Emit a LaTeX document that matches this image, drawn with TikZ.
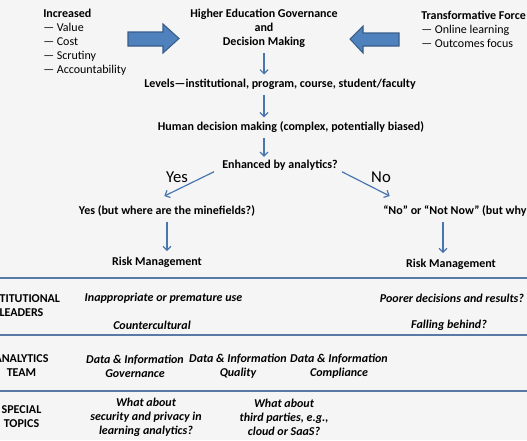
\documentclass[tikz,border=0pt]{standalone}
\usepackage{fontspec}
\setmainfont{Carlito}
\usetikzlibrary{arrows.meta}
\definecolor{bgcol}{RGB}{245,245,245}
\definecolor{arrfill}{RGB}{79,129,189}
\definecolor{arrdraw}{RGB}{56,93,138}
\definecolor{flowcol}{RGB}{74,118,175}
\definecolor{rulecol}{RGB}{88,122,165}
\tikzset{
  lbl/.style={font=\bfseries\fontsize{9}{10.5}\selectfont, inner sep=0pt, align=center},
  lst/.style={font=\fontsize{9}{10.5}\selectfont, inner sep=0pt, align=left, anchor=west},
  rowtxt/.style={font=\bfseries\itshape\fontsize{9}{10.5}\selectfont, inner sep=0pt, align=center},
  yn/.style={font=\fontsize{12.5}{14}\selectfont, inner sep=0pt},
  flow/.style={draw=flowcol, line width=0.9pt, -{Straight Barb[length=3pt,width=6pt]}},
  band/.style={draw=rulecol, line width=1.4pt},
  blockarrow/.style={fill=arrfill, draw=arrdraw, line width=0.8pt, line join=miter},
}
\begin{document}
\begin{tikzpicture}[x=0.75pt,y=-0.75pt]
  \fill[bgcol] (0,0) rectangle (527,440);
  \useasboundingbox (0,0) rectangle (527,440);
  \clip (0,0) rectangle (527,440);

  % top: forces pushing on governance
  \node[lst] (incr) at (43,42) {\textbf{Increased}\\— Value\\— Cost\\— Scrutiny\\— Accountability};
  \node[lbl] (gov) at (264,28) {Higher Education Governance\\and\\Decision Making};
  \node[lst] (trans) at (421,29) {\textbf{Transformative Force}\\— Online learning\\— Outcomes focus};
  \draw[blockarrow] (128,32) -- (163,32) -- (163,24) -- (179,38.5) -- (163,53) -- (163,46) -- (128,46) -- cycle;
  \draw[blockarrow] (399,33) -- (363,33) -- (363,26) -- (350,39) -- (363,53) -- (363,46) -- (399,46) -- cycle;

  % decision flow
  \node[lbl] (levels) at (280,84) {Levels—institutional, program, course, student/faculty};
  \node[lbl] (human) at (291,127) {Human decision making (complex, potentially biased)};
  \node[lbl] (enh) at (280,165) {Enhanced by analytics?};
  \node[yn] (yes) at (177,177) {Yes};
  \node[yn] (no) at (381,177) {No};
  \node[lbl] (minef) at (167,211) {Yes (but where are the minefields?)};
  \node[lbl,anchor=west] (notnow) at (383,211) {“No” or “Not Now” (but why?)};
  \node[lbl] (riskl) at (157,262) {Risk Management};
  \node[lbl] (riskr) at (451,264) {Risk Management};

  \draw[flow, shorten <=4pt, shorten >=3pt] (gov) -- (gov |- levels.north);
  \draw[flow, shorten <=4pt, shorten >=3pt] (levels.south -| gov) -- (human.north -| gov);
  \draw[flow, shorten <=4pt, shorten >=2pt] (human.south -| gov) -- (enh.north -| gov);
  \draw[flow] ([xshift=-6pt,yshift=-1pt]enh.south west) -- ([xshift=-2pt,yshift=7pt]minef.north);
  \draw[flow] ([xshift=3pt,yshift=-1pt]enh.south east) -- ([xshift=5pt,yshift=7pt]notnow.north west);
  \coordinate (rr) at ([xshift=-6pt]riskr.north);
  \draw[flow, shorten <=4pt, shorten >=4pt] (minef.south) -- (minef.south |- riskl.north);
  \draw[flow, shorten <=4pt, shorten >=4pt] (notnow.south -| rr) -- (rr);

  % rows
  \draw[band] (0,278) -- (527,278);
  \draw[band] (0,335) -- (527,335);
  \draw[band] (0,391) -- (527,391);

  \node[lbl] (inst) at (21.5,306) {INSTITUTIONAL\\LEADERS};
  \node[rowtxt] (inappr) at (163.5,298) {Inappropriate or premature use};
  \node[rowtxt] (counter) at (152,325) {Countercultural};
  \node[rowtxt] (poorer) at (452,298) {Poorer decisions and results?};
  \node[rowtxt] (falling) at (449,325) {Falling behind?};

  \node[lbl] (team) at (21.5,366) {ANALYTICS\\TEAM};
  \node[rowtxt] (digov) at (135,366) {Data \& Information\\Governance};
  \node[rowtxt] (diqual) at (238,366) {Data \& Information\\Quality};
  \node[rowtxt] (dicomp) at (339,366) {Data \& Information\\Compliance};

  \node[lbl] (topics) at (21.5,417) {SPECIAL\\TOPICS};
  \node[rowtxt] (secur) at (146,417) {What about\\security and privacy in\\learning analytics?};
  \node[rowtxt] (third) at (284,417) {What about\\third parties, e.g.,\\cloud or SaaS?};
\end{tikzpicture}
\end{document}
